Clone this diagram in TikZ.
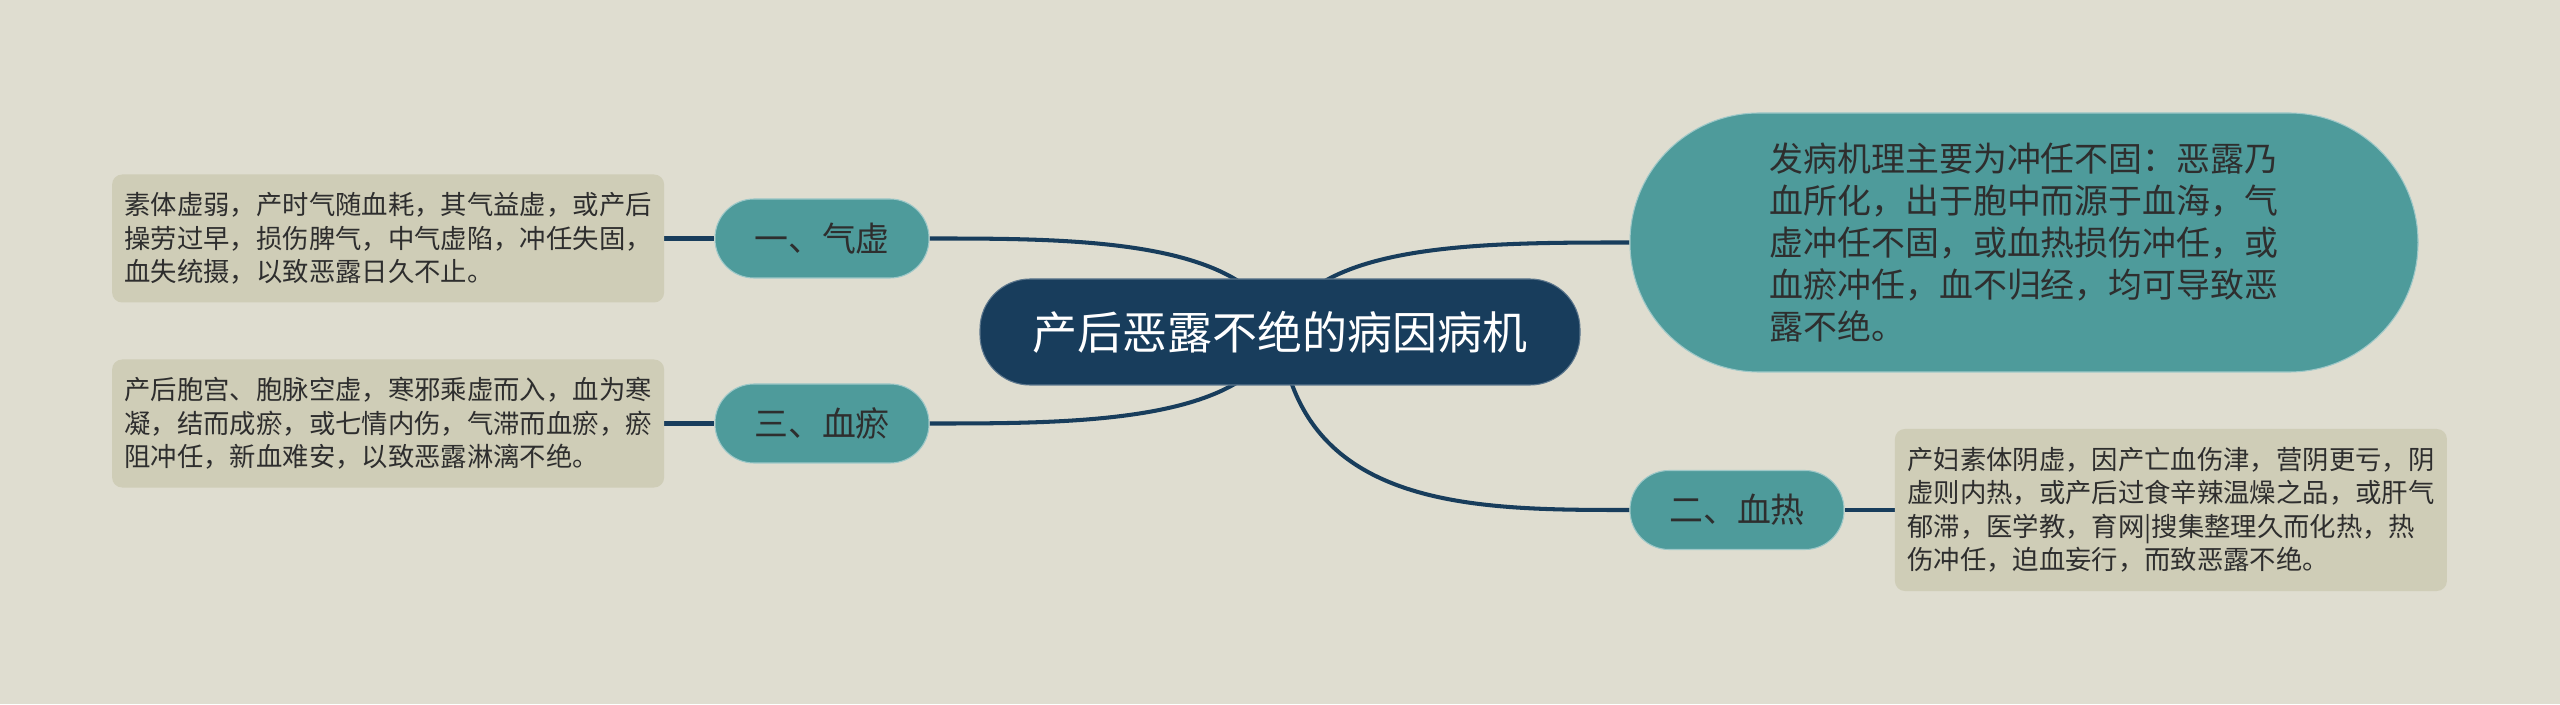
\documentclass[tikz,border=0pt]{standalone}
\usepackage{fontspec}
\setmainfont{Noto Sans CJK SC}
\usetikzlibrary{positioning}
\definecolor{bgcol}{HTML}{DFDDD0}
\definecolor{leafcol}{HTML}{CFCDB7}
\definecolor{tealcol}{HTML}{4E9B9B}
\definecolor{navycol}{HTML}{183D5C}
\definecolor{inkcol}{HTML}{2E2E2E}
\pgfdeclarelayer{background}
\pgfsetlayers{background,main}

\begin{document}
\begin{tikzpicture}[
    every node/.style={inner sep=0pt, align=left},
    rootbox/.style={fill=navycol, draw=navycol!70!white, line width=0.6pt, text=white, rounded corners=1.0cm,
        minimum width=12cm, minimum height=2.12cm, font=\fontsize{25.6pt}{30pt}\selectfont, align=center},
    branchbox/.style={fill=tealcol, draw=tealcol!55!white, line width=0.6pt, text=inkcol, rounded corners=0.78cm,
        minimum width=4.28cm, minimum height=1.58cm, font=\fontsize{19.3pt}{24pt}\selectfont, align=center},
    leafbox/.style={fill=leafcol, text=inkcol, rounded corners=0.2cm, minimum width=11.04cm,
        font=\fontsize{15pt}{19pt}\selectfont},
    link/.style={draw=navycol, line width=2.3pt},
]
    \useasboundingbox (0,0) rectangle (51.2,14.08);

    % Root
    \node[rootbox] (root) at (25.6,7.44) {产后恶露不绝的病因病机};

    % Left branches
    \node[branchbox] (qixu) at (16.44,9.31) {一、气虚};
    \node[branchbox] (xueyu) at (16.44,5.61) {三、血瘀};
    \node[leafbox, minimum height=2.56cm, left=1cm of qixu] (qixuleaf)
        {素体虚弱，产时气随血耗，其气益虚，或产后\\操劳过早，损伤脾气，中气虚陷，冲任失固，\\血失统摄，以致恶露日久不止。};
    \node[leafbox, minimum height=2.56cm, left=1cm of xueyu] (xueyuleaf)
        {产后胞宫、胞脉空虚，寒邪乘虚而入，血为寒\\凝，结而成瘀，或七情内伤，气滞而血瘀，瘀\\阻冲任，新血难安，以致恶露淋漓不绝。};

    % Right branches
    \node[branchbox, rounded corners=2.58cm, minimum width=15.76cm, minimum height=5.18cm, align=left] (mech) at (40.48,9.23)
        {发病机理主要为冲任不固：恶露乃\\血所化，出于胞中而源于血海，气\\虚冲任不固，或血热损伤冲任，或\\血瘀冲任，血不归经，均可导致恶\\露不绝。};
    \node[branchbox] (xuere) at (34.74,3.88) {二、血热};
    \node[leafbox, minimum height=3.24cm, right=1cm of xuere] (xuereleaf)
        {产妇素体阴虚，因产亡血伤津，营阴更亏，阴\\虚则内热，或产后过食辛辣温燥之品，或肝气\\郁滞，医学教，育网|搜集整理久而化热，热\\伤冲任，迫血妄行，而致恶露不绝。};

    \begin{pgfonlayer}{background}
        \fill[bgcol] (0,0) rectangle (51.2,14.08);
        % Curves from root
        \draw[link] (root.center) .. controls (25.0,9.31) and (21.5,9.31) .. (qixu.east);
        \draw[link] (root.center) .. controls (25.0,5.61) and (21.5,5.61) .. (xueyu.east);
        \draw[link] (root.center) .. controls (26.2,9.23) and (29.6,9.23) .. (mech.west);
        \draw[link] (root.center) .. controls (26.0,3.88) and (29.5,3.88) .. (xuere.west);
        % Leaf links
        \draw[link] (qixuleaf.east) -- (qixu.west);
        \draw[link] (xueyuleaf.east) -- (xueyu.west);
        \draw[link] (xuere.east) -- (xuereleaf.west);
    \end{pgfonlayer}
\end{tikzpicture}
\end{document}
